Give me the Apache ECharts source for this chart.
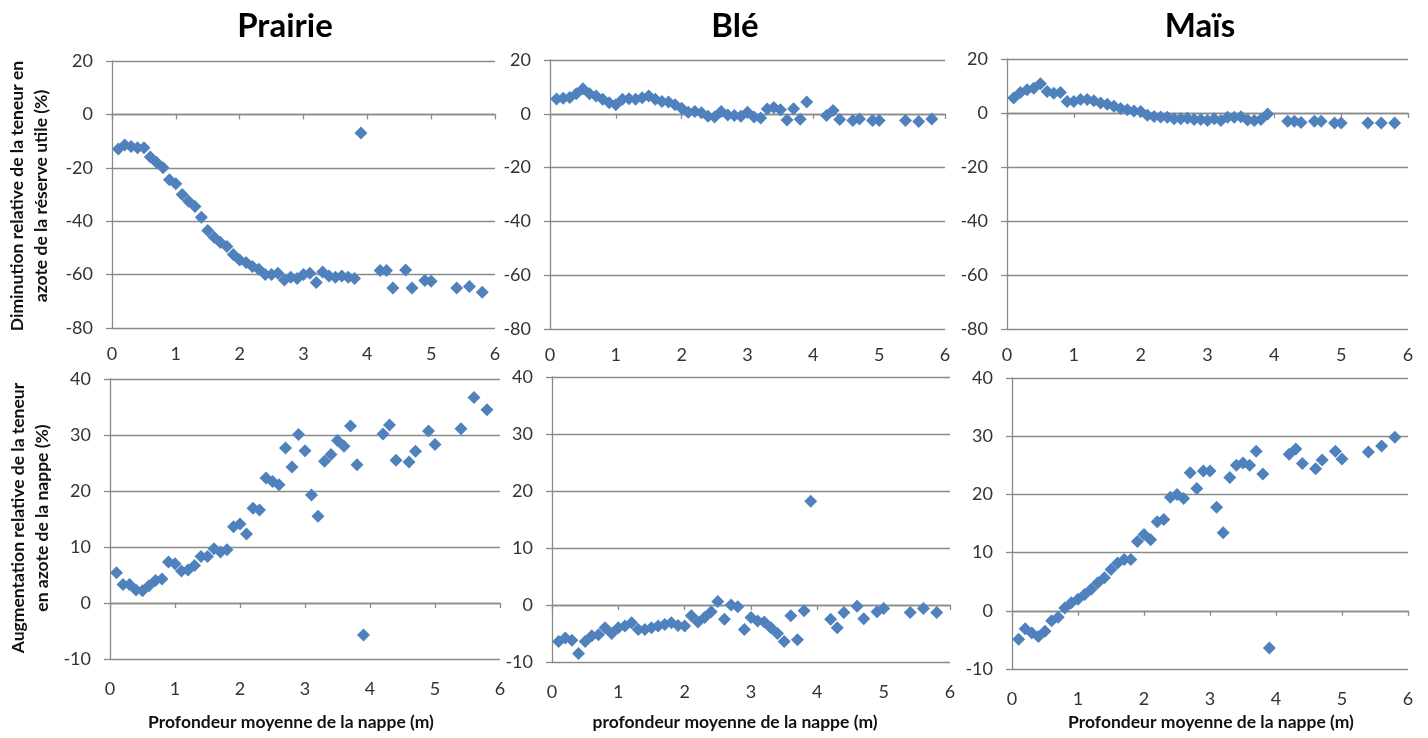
<!DOCTYPE html>
<html>
<head>
<meta charset="utf-8">
<script src="https://cdn.jsdelivr.net/npm/echarts@6/dist/echarts.min.js"></script>
<style>
html,body{margin:0;padding:0;background:#fff;}
#c{width:1428px;height:738px;}
</style>
</head>
<body>
<div id="c"></div>
<script>
// ---- data ----
const panelTitles = ['Prairie', 'Blé', 'Maïs'];
const xTitles = ['Profondeur moyenne de la nappe (m)', 'profondeur moyenne de la nappe (m)', 'Profondeur moyenne de la nappe (m)'];
const yTitleTop = 'Diminution relative de la teneur en\nazote de la réserve utile (%)';
const yTitleBottom = 'Augmentation relative de la teneur\nen azote de la nappe (%)';

const depth = [0.1,0.2,0.3,0.4,0.5,0.6,0.7,0.8,0.9,1.0,1.1,1.2,1.3,1.4,1.5,1.6,1.7,1.8,1.9,2.0,
  2.1,2.2,2.3,2.4,2.5,2.6,2.7,2.8,2.9,3.0,3.1,3.2,3.3,3.4,3.5,3.6,3.7,3.8,3.9,
  4.2,4.3,4.4,4.6,4.7,4.9,5.0,5.4,5.6,5.8];

const prairieDim = [-13,-11.5,-12,-12.5,-12.5,-16,-18,-20,-24.5,-26,-30,-32.5,-34.5,-38.5,-43.5,-46,-48,-49.5,-52.5,-54.5,
  -55.5,-57,-58,-60,-60,-59.5,-62,-61,-61.5,-60,-59.5,-63,-59,-60.5,-61,-60.5,-61,-61.5,-7,
  -58.5,-58.5,-65,-58.3,-65,-62.2,-62.5,-65,-64.5,-66.6];
const bleDim = [5.5,5.8,6.1,7.5,9.3,7.5,6.6,5.4,4.1,3.4,5.4,5.6,5.4,6.0,6.6,5.4,4.6,4.4,3.4,2.1,
  0.6,0.9,0.4,-0.9,-1.2,0.9,-0.4,-0.6,-0.9,0.6,-1.2,-1.6,1.8,2.3,1.5,-2.3,1.9,-2.0,4.4,
  -0.6,1.2,-2.1,-2.5,-1.9,-2.5,-2.5,-2.5,-2.9,-1.9];
const maisDim = [5.6,7.6,8.6,9.2,10.8,8.0,7.3,7.6,4.3,4.3,5.0,5.0,4.5,3.7,3.2,2.5,1.7,1.2,0.7,0.6,
  -0.8,-1.3,-1.5,-1.6,-2.1,-2.1,-1.9,-2.4,-2.4,-2.8,-2.1,-2.8,-1.6,-1.6,-1.4,-2.6,-2.8,-2.4,-0.4,
  -3.1,-3.1,-3.5,-3.1,-3.1,-3.7,-3.7,-3.7,-3.7,-3.7];

const prairieAug = [5.4,3.3,3.3,2.3,2.2,3.1,4.0,4.3,7.3,7.0,5.7,5.9,6.7,8.3,8.3,9.7,9.1,9.5,13.6,14.1,
  12.3,16.9,16.6,22.3,21.7,21.1,27.7,24.3,30.1,27.2,19.3,15.5,25.3,26.5,29.0,28.0,31.6,24.7,-5.7,
  30.2,31.8,25.5,25.2,27.1,30.7,28.3,31.1,36.7,34.5];
const bleAug = [-6.4,-5.8,-6.2,-8.5,-6.4,-5.4,-5.2,-4.0,-5.0,-4.0,-3.7,-3.1,-4.3,-4.3,-4.0,-3.7,-3.4,-3.1,-3.6,-3.7,
  -1.9,-3.0,-2.2,-1.2,0.6,-2.5,0.0,-0.3,-4.3,-2.2,-2.8,-3.0,-4.0,-5.0,-6.4,-1.9,-6.1,-1.0,18.2,
  -2.5,-4.0,-1.3,-0.2,-2.4,-1.2,-0.6,-1.3,-0.6,-1.3];
const maisAug = [-4.9,-3.1,-3.8,-4.4,-3.5,-1.7,-1.1,0.5,1.4,2.0,2.8,3.7,4.8,5.7,7.1,8.2,8.8,8.8,11.9,13.1,
  12.2,15.3,15.7,19.5,20.0,19.3,23.7,21.0,24.0,24.0,17.8,13.4,22.9,25.0,25.4,25.0,27.4,23.5,-6.4,
  26.9,27.8,25.3,24.4,25.9,27.4,26.1,27.3,28.3,29.8];

const seriesValues = [prairieDim, bleDim, maisDim, prairieAug, bleAug, maisAug];
const xTicks = {min: 0, max: 6, interval: 1};
const yTop = {min: -80, max: 20, interval: 20};
const yBottom = {min: -10, max: 40, interval: 10};

// ---- layout ----
const grids = [
  {left: 112, top: 61, width: 383, height: 267},
  {left: 550, top: 60, width: 395, height: 269},
  {left: 1007, top: 59, width: 401, height: 270},
  {left: 110, top: 379, width: 390, height: 280},
  {left: 552, top: 377, width: 398, height: 285},
  {left: 1012, top: 378, width: 396, height: 291}
];
const FONT = 'Lato, "Open Sans", sans-serif';
const gridColor = '#8a8a8a';
const labelColor = '#333';
const markerColor = '#4F81BD';

const xAxes = [], yAxes = [], series = [];
grids.forEach((g, k) => {
  const isTop = k < 3;
  // label-only axis at the bottom of the plot
  xAxes.push({
    type: 'value', gridIndex: k, min: xTicks.min, max: xTicks.max, interval: xTicks.interval,
    position: 'bottom',
    axisLine: {show: false, onZero: false}, axisTick: {show: false}, splitLine: {show: false},
    axisLabel: {fontSize: 18, color: labelColor, fontFamily: FONT, margin: isTop ? 17 : 21}
  });
  // line + ticks at y = 0
  xAxes.push({
    type: 'value', gridIndex: k, min: xTicks.min, max: xTicks.max, interval: xTicks.interval,
    position: 'bottom',
    axisLine: {show: true, onZero: true, lineStyle: {color: gridColor, width: 1.3}},
    axisTick: {show: true, length: 5, lineStyle: {color: gridColor, width: 1.3}},
    splitLine: {show: false}, axisLabel: {show: false}
  });
  const yr = isTop ? yTop : yBottom;
  yAxes.push({
    type: 'value', gridIndex: k, min: yr.min, max: yr.max, interval: yr.interval,
    axisLine: {show: true, lineStyle: {color: gridColor, width: 1.3}},
    axisTick: {show: true, length: 6, lineStyle: {color: gridColor, width: 1.3}},
    splitLine: {show: true, lineStyle: {color: gridColor, width: 1.3}},
    axisLabel: {fontSize: 18, color: labelColor, fontFamily: FONT, margin: 19}
  });
  series.push({
    type: 'scatter', xAxisIndex: 2 * k + 1, yAxisIndex: k,
    symbol: 'diamond', symbolSize: 13,
    itemStyle: {color: markerColor, opacity: 1},
    data: depth.map((d, i) => [d, seriesValues[k][i]]),
    z: 5
  });
});

const graphics = [];
const titleX = [285, 735, 1200];
panelTitles.forEach((t, i) => graphics.push({
  type: 'text', x: titleX[i], y: 26,
  style: {text: t, fontSize: 33, fontWeight: 'bold', fontFamily: FONT, fill: '#000', align: 'center', verticalAlign: 'middle'}
}));
const xNameX = [291, 735, 1211];
xTitles.forEach((t, i) => graphics.push({
  type: 'text', x: xNameX[i], y: 722,
  style: {text: t, fontSize: 17.5, fontWeight: 'bold', fontFamily: FONT, fill: '#111', align: 'center', verticalAlign: 'middle'}
}));
graphics.push({
  type: 'text', x: 29, y: 196, rotation: Math.PI / 2,
  style: {text: yTitleTop, fontSize: 17.5, fontWeight: 'bold', fontFamily: FONT, fill: '#111', align: 'center', verticalAlign: 'middle', lineHeight: 24}
});
graphics.push({
  type: 'text', x: 30, y: 518, rotation: Math.PI / 2,
  style: {text: yTitleBottom, fontSize: 17.5, fontWeight: 'bold', fontFamily: FONT, fill: '#111', align: 'center', verticalAlign: 'middle', lineHeight: 24}
});

const chart = echarts.init(document.getElementById('c'), null, {renderer: 'canvas'});
chart.setOption({
  animation: false,
  backgroundColor: '#fff',
  grid: grids.map(g => Object.assign({containLabel: false}, g)),
  xAxis: xAxes,
  yAxis: yAxes,
  series: series,
  graphic: graphics
});
</script>
</body>
</html>
